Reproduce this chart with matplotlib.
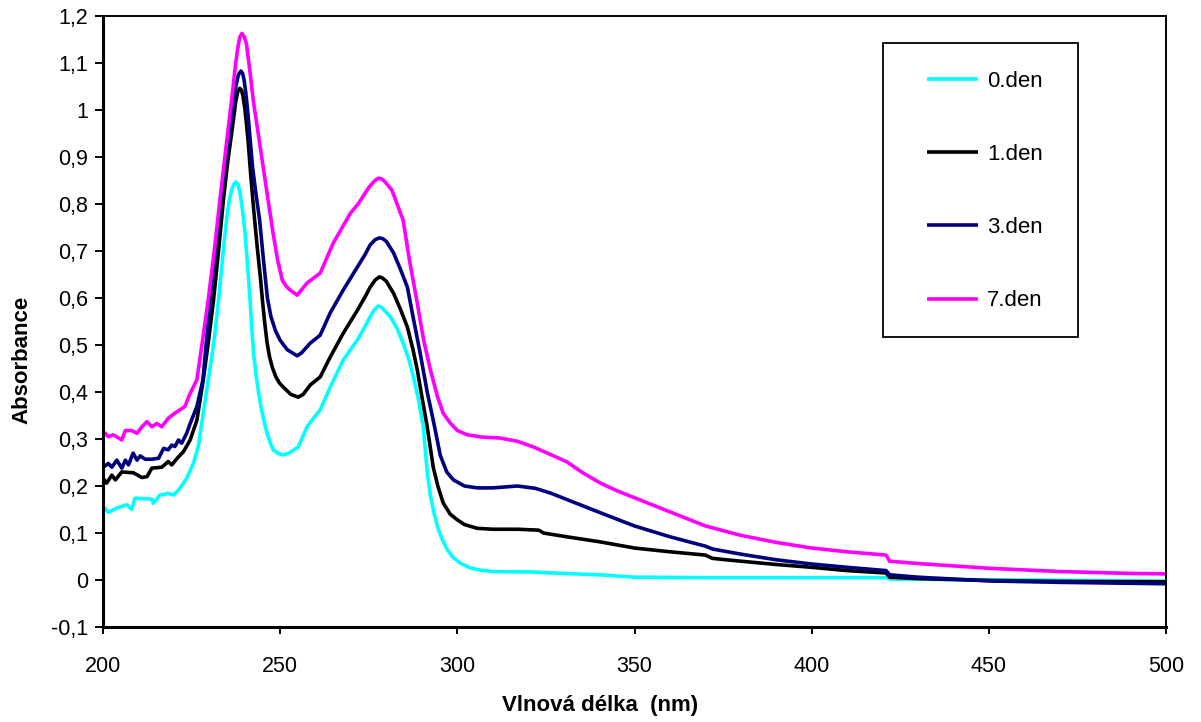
import matplotlib
matplotlib.use("Agg")
import matplotlib.pyplot as plt
from matplotlib.patches import Rectangle

plt.rcParams['font.family'] = ['Liberation Sans', 'DejaVu Sans']

# ---- spectra: wavelength (nm) and absorbance ----
wl_0 = [200.1, 201.5, 203.9, 206.7, 208.1, 209.0, 213.8, 214.2, 216.1, 218.4, 219.9, 221.3,
        223.6, 225.5, 226.9, 228.3, 229.7, 230.6, 231.5, 232.4, 233.3, 234.2, 235.0, 235.7,
        236.3, 236.9, 237.5, 238.1, 238.7, 239.4, 240.1, 240.8, 241.5, 242.0, 242.5, 243.2,
        244.0, 244.8, 245.5, 246.3, 247.2, 248.0, 249.5, 250.8, 252.5, 255.1, 257.6, 259.5,
        261.3, 264.1, 267.8, 271.8, 274.0, 275.4, 276.6, 277.7, 278.6, 279.5, 281.1, 283.0,
        284.7, 286.3, 287.6, 289.0, 290.4, 291.5, 292.5, 293.5, 294.4, 295.8, 297.2, 298.8,
        300.8, 303.5, 306.5, 310.0, 321.5, 330.0, 340.4, 350.0, 370.0, 400.0, 421.0, 422.0,
        440.0, 460.0, 480.0, 500.0]
abs_0 = [0.156, 0.144, 0.153, 0.160, 0.150, 0.174, 0.172, 0.163, 0.181, 0.184, 0.181, 0.191,
         0.216, 0.248, 0.284, 0.355, 0.426, 0.470, 0.520, 0.580, 0.650, 0.720, 0.775, 0.810,
         0.830, 0.842, 0.847, 0.842, 0.823, 0.785, 0.738, 0.670, 0.596, 0.535, 0.483, 0.435,
         0.395, 0.360, 0.336, 0.313, 0.292, 0.277, 0.269, 0.266, 0.270, 0.283, 0.326, 0.345,
         0.362, 0.410, 0.468, 0.511, 0.540, 0.560, 0.575, 0.583, 0.580, 0.573, 0.560, 0.535,
         0.504, 0.470, 0.432, 0.385, 0.326, 0.230, 0.175, 0.140, 0.113, 0.085, 0.064, 0.048,
         0.036, 0.026, 0.021, 0.018, 0.017, 0.014, 0.011, 0.006, 0.005, 0.005, 0.005, 0.002,
         0.001, 0.000, -0.001, -0.002]

wl_1 = [200.1, 201.0, 202.5, 203.5, 205.3, 208.6, 211.0, 212.4, 213.8, 216.6, 218.4, 219.4,
        221.3, 222.7, 224.6, 226.5, 228.3, 229.8, 231.2, 232.6, 234.0, 235.2, 236.3, 237.5,
        238.0, 238.6, 239.1, 239.5, 240.0, 240.5, 241.0, 241.5, 242.5, 243.5, 244.4, 245.0,
        245.6, 246.3, 247.0, 247.8, 248.8, 249.8, 250.8, 253.0, 255.1, 256.5, 258.5, 261.3,
        264.1, 267.8, 271.8, 274.0, 275.4, 276.8, 278.0, 279.0, 280.0, 282.0, 284.0, 285.9,
        287.5, 288.7, 290.0, 291.5, 293.2, 294.5, 296.0, 298.0, 300.0, 302.0, 305.6, 310.0,
        317.0, 323.0, 324.3, 330.0, 340.4, 350.0, 360.0, 370.0, 372.0, 380.0, 390.0, 400.0,
        410.0, 421.0, 422.0, 430.0, 450.0, 470.0, 500.0]
abs_1 = [0.216, 0.206, 0.223, 0.213, 0.230, 0.228, 0.218, 0.220, 0.238, 0.240, 0.252, 0.245,
         0.262, 0.273, 0.298, 0.340, 0.426, 0.510, 0.596, 0.700, 0.810, 0.890, 0.950, 1.020,
         1.038, 1.046, 1.042, 1.030, 1.005, 0.970, 0.930, 0.880, 0.790, 0.710, 0.645, 0.595,
         0.550, 0.505, 0.475, 0.452, 0.432, 0.419, 0.411, 0.395, 0.389, 0.395, 0.415, 0.432,
         0.474, 0.525, 0.574, 0.603, 0.623, 0.638, 0.645, 0.642, 0.635, 0.610, 0.575, 0.538,
         0.490, 0.447, 0.390, 0.326, 0.240, 0.200, 0.164, 0.140, 0.128, 0.118, 0.110, 0.108,
         0.108, 0.106, 0.100, 0.093, 0.081, 0.068, 0.060, 0.053, 0.046, 0.040, 0.033, 0.027,
         0.020, 0.015, 0.006, 0.003, -0.001, -0.003, -0.004]

wl_3 = [200.1, 201.5, 202.5, 203.9, 205.3, 206.3, 207.2, 208.5, 209.6, 210.5, 211.9, 213.8,
        215.7, 217.1, 218.4, 219.4, 220.3, 221.3, 222.2, 223.6, 224.6, 226.5, 228.2, 229.2,
        230.2, 231.7, 233.2, 234.5, 235.7, 236.7, 237.5, 238.2, 238.9, 239.4, 239.8, 240.3,
        240.8, 241.5, 242.2, 243.2, 244.2, 245.3, 246.4, 247.4, 248.7, 250.0, 252.0, 254.8,
        256.0, 258.5, 261.3, 264.1, 267.8, 271.8, 274.0, 275.4, 276.8, 278.0, 279.0, 280.0,
        282.0, 284.0, 285.9, 287.5, 289.5, 291.5, 293.2, 295.2, 297.0, 298.9, 302.0, 305.6,
        310.0, 317.0, 322.0, 326.3, 333.0, 340.4, 350.0, 360.0, 370.0, 372.0, 380.0, 390.0,
        400.0, 410.0, 421.0, 422.0, 430.0, 440.0, 450.0, 470.0, 500.0]
abs_3 = [0.240, 0.248, 0.240, 0.255, 0.238, 0.255, 0.245, 0.270, 0.255, 0.264, 0.257, 0.257,
         0.259, 0.280, 0.277, 0.287, 0.284, 0.298, 0.291, 0.312, 0.333, 0.369, 0.426, 0.510,
         0.596, 0.700, 0.809, 0.890, 0.950, 1.010, 1.050, 1.075, 1.083, 1.078, 1.065, 1.037,
         1.000, 0.940, 0.879, 0.820, 0.766, 0.680, 0.600, 0.560, 0.530, 0.510, 0.490, 0.477,
         0.483, 0.504, 0.521, 0.568, 0.617, 0.666, 0.693, 0.713, 0.724, 0.728, 0.726, 0.720,
         0.696, 0.660, 0.623, 0.560, 0.483, 0.400, 0.340, 0.265, 0.230, 0.213, 0.200, 0.196,
         0.196, 0.200, 0.195, 0.185, 0.165, 0.143, 0.115, 0.092, 0.072, 0.066, 0.055, 0.043,
         0.034, 0.027, 0.020, 0.011, 0.006, 0.002, -0.002, -0.005, -0.008]

wl_7 = [200.1, 201.5, 202.9, 205.3, 206.3, 208.1, 209.6, 211.0, 212.4, 213.8, 215.2, 216.6,
        218.4, 220.3, 221.7, 223.1, 224.6, 226.5, 228.1, 229.7, 231.4, 233.0, 234.7, 236.3,
        237.3, 238.0, 238.6, 239.2, 239.8, 240.5, 241.5, 242.4, 243.8, 245.2, 246.6, 248.0,
        249.3, 250.6, 251.7, 252.8, 254.8, 257.6, 261.3, 265.0, 269.8, 272.0, 275.0, 276.5,
        277.7, 278.7, 279.5, 281.5, 283.0, 284.7, 286.5, 288.7, 290.5, 292.4, 294.4, 296.0,
        298.0, 300.0, 302.8, 307.0, 312.1, 317.0, 321.5, 326.0, 331.0, 335.0, 340.4, 345.0,
        350.0, 360.0, 370.0, 380.0, 390.0, 400.0, 410.0, 421.0, 422.0, 430.0, 440.0, 450.0,
        470.0, 490.0, 500.0]
abs_7 = [0.316, 0.305, 0.309, 0.298, 0.318, 0.318, 0.312, 0.326, 0.337, 0.326, 0.333, 0.326,
         0.344, 0.355, 0.362, 0.369, 0.397, 0.426, 0.510, 0.596, 0.700, 0.809, 0.920, 1.021,
         1.090, 1.130, 1.155, 1.163, 1.157, 1.140, 1.080, 1.021, 0.950, 0.879, 0.808, 0.738,
         0.680, 0.638, 0.625, 0.617, 0.606, 0.632, 0.653, 0.717, 0.780, 0.800, 0.835, 0.848,
         0.855, 0.853, 0.848, 0.830, 0.800, 0.766, 0.680, 0.589, 0.510, 0.447, 0.390, 0.355,
         0.334, 0.318, 0.309, 0.304, 0.302, 0.295, 0.283, 0.268, 0.251, 0.230, 0.206, 0.190,
         0.175, 0.145, 0.115, 0.095, 0.080, 0.068, 0.060, 0.053, 0.040, 0.035, 0.030, 0.025,
         0.018, 0.014, 0.013]

series_labels = ['0.den', '1.den', '3.den', '7.den']
series_colors = ['#00FFFF', '#000000', '#000080', '#FF00FF']

x_ticks = [200, 250, 300, 350, 400, 450, 500]
y_ticks = [-0.1, 0.0, 0.1, 0.2, 0.3, 0.4, 0.5, 0.6, 0.7, 0.8, 0.9, 1.0, 1.1, 1.2]
y_tick_labels = ['-0,1', '0', '0,1', '0,2', '0,3', '0,4', '0,5', '0,6', '0,7', '0,8',
                 '0,9', '1', '1,1', '1,2']

W, H = 1201, 722
fig = plt.figure(figsize=(W / 100, H / 100), dpi=100)
ax = fig.add_axes([103 / W, 1 - 627 / H, (1166 - 103) / W, (627 - 16) / H])

handles = []
for wl, ab, lab, col in zip([wl_0, wl_1, wl_3, wl_7], [abs_0, abs_1, abs_3, abs_7],
                            series_labels, series_colors):
    h, = ax.plot(wl, ab, color=col, lw=2.6, label=lab,
                 solid_joinstyle='round', solid_capstyle='butt')
    handles.append(h)

ax.set_xlim(200, 500)
ax.set_ylim(-0.1, 1.2)
ax.set_xticks(x_ticks)
ax.set_xticklabels([str(v) for v in x_ticks])
ax.set_yticks(y_ticks)
ax.set_yticklabels(y_tick_labels)

ax.tick_params(axis='y', direction='out', length=5.8, width=1.4, pad=5, labelsize=15.5)
ax.tick_params(axis='x', direction='out', length=5.0, width=1.4, pad=16, labelsize=15.5)

for side in ['left', 'bottom']:
    ax.spines[side].set_linewidth(2.2)
for side in ['top', 'right']:
    ax.spines[side].set_linewidth(1.4)

fig.text(600 / W, 1 - 706 / H, 'Vlnová délka  (nm)', ha='center', va='center',
         fontsize=16, fontweight='bold')
fig.text(22 / W, 1 - 360 / H, 'Absorbance', ha='center', va='center', rotation=90,
         fontsize=16, fontweight='bold')

# legend entries, with a separate frame box around them
leg = ax.legend(handles=handles, loc='center', frameon=False,
                bbox_to_anchor=(985 / W, 1 - 191 / H), bbox_transform=fig.transFigure,
                fontsize=16, handlelength=2.3, handletextpad=0.4, labelspacing=2.35,
                borderpad=0)
fig.add_artist(Rectangle((883 / W, 1 - 337 / H), (1078 - 883) / W, (337 - 43) / H,
                         transform=fig.transFigure, fill=False, edgecolor='black',
                         linewidth=1.3))

fig.savefig('out.png', dpi=100, facecolor='white')
